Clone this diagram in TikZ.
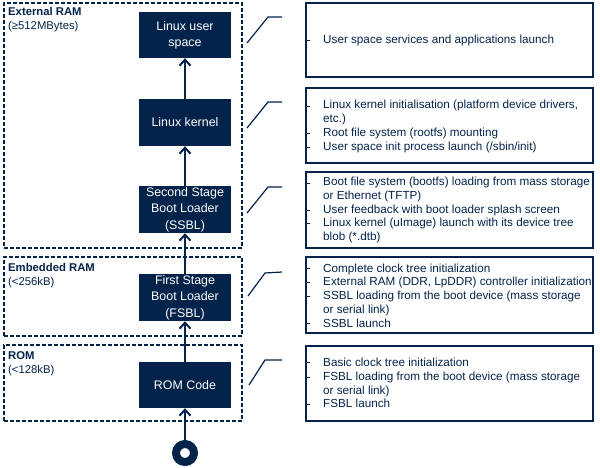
\documentclass[tikz,border=0pt]{standalone}
\usepackage{fontspec}
\setmainfont{Liberation Sans}
\usetikzlibrary{arrows.meta}
\definecolor{stnavy}{RGB}{3,35,75}
\begin{document}
\begin{tikzpicture}[x=1pt,y=-1pt,
  memzone/.style={draw=stnavy, line width=1.4pt, dash pattern=on 4pt off 2pt, inner sep=0, minimum width=238pt},
  zonelabel/.style={text=stnavy, anchor=north west, align=left, inner sep=0, font=\fontsize{11.3}{14}\selectfont},
  stage/.style={fill=stnavy, text=white, minimum width=92pt, minimum height=47pt, align=center, inner sep=0, font=\fontsize{12.4}{16.3}\selectfont},
  infobox/.style={draw=stnavy, line width=1.2pt, minimum width=287pt, inner sep=0},
  infotext/.style={text=stnavy, anchor=west, align=left, inner sep=0, font=\fontsize{11.7}{13.7}\selectfont},
  flow/.style={draw=stnavy, line width=2pt, -{Straight Barb[length=6pt,width=11pt,line width=2pt]}},
  callout/.style={draw=stnavy, line width=1.2pt},
  bullettick/.style={draw=stnavy, line width=0.6pt}
]
\useasboundingbox (0,0) rectangle (600,467);

% memory zones
\node[memzone, minimum height=245pt] (ext) at (123,125.5) {};
\node[memzone, minimum height=79pt] (emb) at (123,296.5) {};
\node[memzone, minimum height=76pt] (romz) at (123,383) {};
\node[zonelabel] (extl) at (8,7) {\textbf{External RAM}\\(≥512MBytes)};
\node[zonelabel] (embl) at (8,263) {\textbf{Embedded RAM}\\(<256kB)};
\node[zonelabel] (roml) at (8,351) {\textbf{ROM}\\(<128kB)};

% stages
\node[stage, minimum height=46pt] (user) at (185,35) {Linux user\\space};
\node[stage] (kern) at (185,122.5) {Linux kernel};
\node[stage] (ssbl) at (185,209.5) {Second Stage\\Boot Loader\\(SSBL)};
\node[stage] (fsbl) at (185,297.5) {First Stage\\Boot Loader\\(FSBL)};
\node[stage, minimum height=46pt] (rom) at (185,385) {ROM Code};
\node[circle, draw=stnavy, line width=8pt, minimum size=18pt, inner sep=0] (start) at (185,453) {};

\draw[flow] (start) -- (rom);
\draw[flow] (rom) -- (fsbl);
\draw[flow] (fsbl) -- (ssbl);
\draw[flow] (ssbl) -- (kern);
\draw[flow] (kern) -- (user);

% info boxes
\node[infobox, minimum height=74pt] (b1) at (449.5,40) {};
\node[infobox, minimum height=75pt] (b2) at (449.5,125.5) {};
\node[infobox, minimum height=76pt] (b3) at (449.5,210) {};
\node[infobox, minimum height=76pt] (b4) at (449.5,295) {};
\node[infobox, minimum height=75pt] (b5) at (449.5,383.5) {};

\node[infotext] (t1) at (323,40) {User space services and applications launch};
\node[infotext] (t2) at (323,126.5) {Linux kernel initialisation (platform device drivers,\\etc.)\\Root file system (rootfs) mounting\\User space init process launch (/sbin/init)};
\node[infotext] (t3) at (323,210) {Boot file system (bootfs) loading from mass storage\\or Ethernet (TFTP)\\User feedback with boot loader splash screen\\Linux kernel (uImage) launch with its device tree\\blob (*.dtb)};
\node[infotext] (t4) at (323,295.5) {Complete clock tree initialization\\External RAM (DDR, LpDDR) controller initialization\\SSBL loading from the boot device (mass storage\\or serial link)\\SSBL launch};
\node[infotext] (t5) at (323,383) {Basic clock tree initialization\\FSBL loading from the boot device (mass storage\\or serial link)\\FSBL launch};

% bullet ticks
\foreach \y in {40,106,133,147,183,210,223,268,282,296,323,362,377,404}
  \draw[bullettick] (306,\y) -- (309.5,\y);

% callouts
\coordinate (c1a) at (247,43); \coordinate (c1b) at (268,17); \coordinate (c1c) at (282,17);
\coordinate (c2a) at (247,128); \coordinate (c2b) at (268,102); \coordinate (c2c) at (282,102);
\coordinate (c3a) at (247,213); \coordinate (c3b) at (268,187); \coordinate (c3c) at (282,187);
\coordinate (c4a) at (248,296); \coordinate (c4b) at (265,273); \coordinate (c4c) at (282,272);
\coordinate (c5a) at (249,385); \coordinate (c5b) at (265,360); \coordinate (c5c) at (282,360);
\draw[callout] (c1a) -- (c1b) -- (c1c);
\draw[callout] (c2a) -- (c2b) -- (c2c);
\draw[callout] (c3a) -- (c3b) -- (c3c);
\draw[callout] (c4a) -- (c4b) -- (c4c);
\draw[callout] (c5a) -- (c5b) -- (c5c);
\end{tikzpicture}
\end{document}
